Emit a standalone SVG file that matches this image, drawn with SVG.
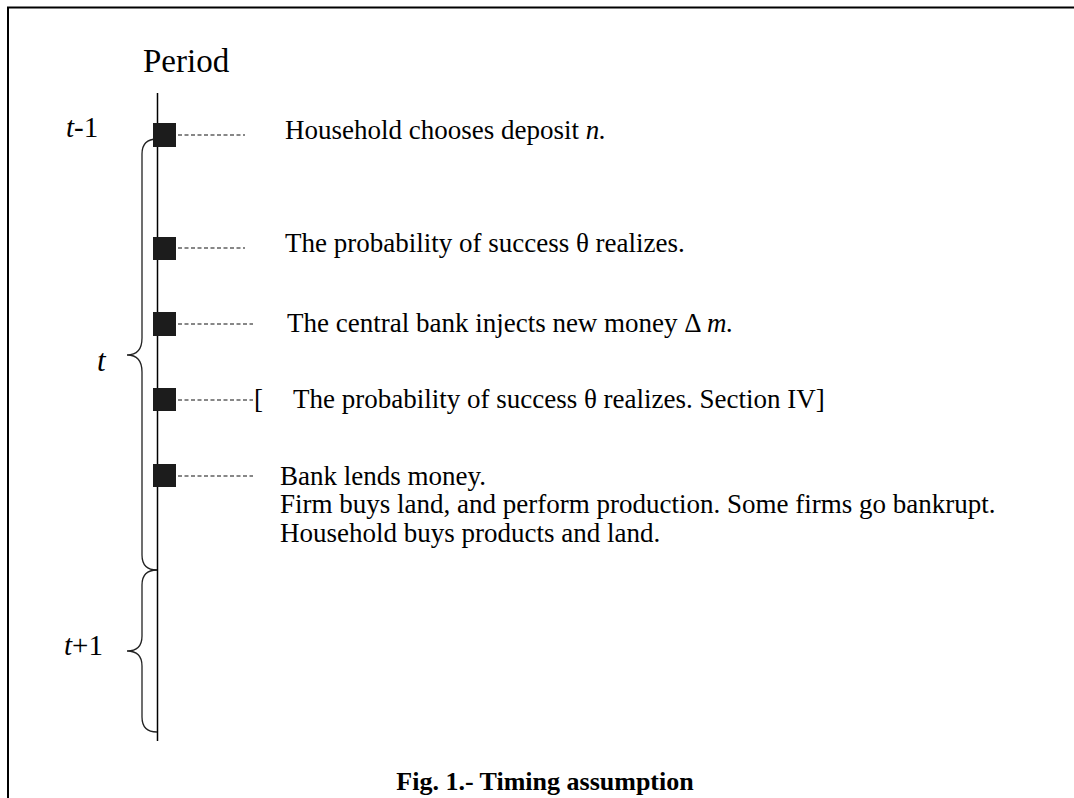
<svg xmlns="http://www.w3.org/2000/svg" width="1074" height="798" viewBox="0 0 1074 798">
<style>
  .txt { font-family: "Liberation Serif", "Times New Roman", serif; font-size: 27px; fill: #000; }
  .it { font-style: italic; }
  .lbl { font-family: "Liberation Serif", "Times New Roman", serif; font-size: 29px; fill: #000; }
  .title { font-family: "Liberation Serif", "Times New Roman", serif; font-size: 26px; font-weight: bold; fill: #000; }
  .dash { stroke: #111; stroke-width: 1.2; stroke-dasharray: 4 2.5; fill: none; }
  .brace { stroke: #222; stroke-width: 1.3; fill: none; }
  .evt { fill: #1c1c1c; }
</style>
<rect width="1074" height="798" fill="#fff"/>
<g id="frame">
  <path d="M1074,7.5 H8 V798" fill="none" stroke="#000" stroke-width="2"/>
</g>
<g id="axis">
  <line x1="157.5" y1="93" x2="157.5" y2="741" stroke="#000" stroke-width="1.5"/>
  <text class="lbl" x="143" y="72" style="font-size:33px">Period</text>
</g>
<g id="period-labels">
  <text class="lbl" x="66" y="137"><tspan class="it">t</tspan>-1</text>
  <text class="lbl it" x="97" y="371" style="font-size:31px">t</text>
  <text class="lbl" x="64" y="655"><tspan class="it">t</tspan>+1</text>
</g>
<g id="braces">
  <path class="brace" d="M157,139 Q142,139 142,154 L142,338 Q142,355 127,355 Q142,355 142,372 L142,555 Q142,570 157,570"/>
  <path class="brace" d="M157,570 Q142,570 142,585 L142,636 Q142,651 127,651 Q142,651 142,666 L142,717 Q142,732 157,732"/>
</g>
<g id="connectors">
  <line class="dash" x1="165" y1="135" x2="245" y2="135"/>
  <line class="dash" x1="165" y1="248" x2="245" y2="248"/>
  <line class="dash" x1="165" y1="324" x2="253" y2="324"/>
  <line class="dash" x1="165" y1="400" x2="253" y2="400"/>
  <line class="dash" x1="165" y1="476" x2="253" y2="476"/>
</g>
<g id="event1">
  <rect class="evt" x="153" y="123" width="23" height="24"/>
  <text class="txt" x="285" y="139">Household chooses deposit <tspan class="it">n.</tspan></text>
</g>
<g id="event2">
  <rect class="evt" x="153" y="237" width="23" height="23"/>
  <text class="txt" x="285" y="252">The probability of success θ realizes.</text>
</g>
<g id="event3">
  <rect class="evt" x="153" y="312" width="23" height="24"/>
  <text class="txt" x="287" y="332">The central bank injects new money Δ <tspan class="it">m.</tspan></text>
</g>
<g id="event4">
  <rect class="evt" x="153" y="388" width="23" height="23"/>
  <text class="txt" x="254" y="408">[</text>
  <text class="txt" x="293" y="408">The probability of success θ realizes. Section IV]</text>
</g>
<g id="event5">
  <rect class="evt" x="153" y="464" width="23" height="23"/>
  <text class="txt" x="280" y="485">Bank lends money.</text>
  <text class="txt" x="280" y="513">Firm buys land, and perform production. Some firms go bankrupt.</text>
  <text class="txt" x="280" y="542">Household buys products and land.</text>
</g>
<g id="caption">
  <text class="title" x="545" y="790" text-anchor="middle">Fig. 1.- Timing assumption</text>
</g>
</svg>
